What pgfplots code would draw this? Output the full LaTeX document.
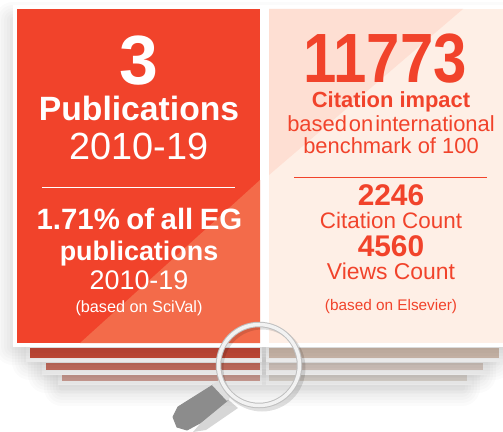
\documentclass[border=0pt]{standalone}
\usepackage{fontspec}
\setmainfont{Liberation Sans}
\usepackage{graphicx}
\usepackage{pgfplots}
\pgfplotsset{compat=1.18}

\definecolor{redmain}{HTML}{F1432B}
\definecolor{redlight}{HTML}{F36B4A}
\definecolor{peachdark}{HTML}{FEDFD3}
\definecolor{peachlight}{HTML}{FEEFE6}
\definecolor{leftA}{HTML}{C54D38}
\definecolor{leftB}{HTML}{C96F61}
\definecolor{leftC}{HTML}{D5A39A}
\definecolor{rightA}{HTML}{CFB9AC}
\definecolor{rightB}{HTML}{D8C9C0}
\definecolor{rightC}{HTML}{E0DAD3}

% x1,y1,x2,y2 in picture pixels
\newcommand{\rect}[5]{\addplot[draw=none,fill=#5] coordinates {(#1,#2)(#3,#2)(#3,#4)(#1,#4)} --cycle;}
\newcommand{\softshadow}[4]{%
  \pgfplotsinvokeforeach{36,30,24,18,12,6}{%
    \addplot[draw=black,draw opacity=.016,line width=##1bp,line join=round,fill=none]
      coordinates {(#1,#2)(#3,#2)(#3,#4)(#1,#4)} --cycle;}}
\newcommand{\txt}[4]{\node[anchor=base,inner sep=0pt,text=#3] at (axis cs:#1,#2) {#4};}
\newcommand{\fs}[1]{\fontsize{#1}{#1}\selectfont}

\begin{document}
\begin{tikzpicture}
\begin{axis}[
    name=sheet,
    scale only axis,width=503bp,height=432bp,
    xmin=0,xmax=503,ymin=0,ymax=432,y dir=reverse,
    hide axis,clip=true]

% stacked sheets behind, lowest first
\softshadow{62}{372}{462}{388}
\rect{58}{373}{262}{385}{gray!8}
\rect{266}{373}{472}{385}{gray!8}
\rect{62}{375}{260}{381}{leftC}
\rect{269}{375}{467}{381}{rightC}

\softshadow{46}{360}{478}{375}
\rect{42}{361}{262}{375}{gray!10}
\rect{266}{361}{488}{375}{gray!10}
\rect{46}{363}{260}{370}{leftB}
\rect{269}{363}{483}{370}{rightB}

\softshadow{30}{350}{494}{362}
\rect{26}{347}{262}{362}{gray!10}
\rect{266}{347}{503}{362}{gray!10}
\rect{30}{348}{260}{358}{leftA}
\rect{269}{348}{499}{358}{rightA}

% main panels
\softshadow{13}{20}{503}{347}
\rect{13}{5}{503}{347}{white}
\rect{17}{9}{260}{343}{redmain}
\addplot[draw=none,fill=redlight] coordinates {(260,180)(260,343)(80,343)} --cycle;
\rect{269}{9}{503}{343}{peachlight}
\addplot[draw=none,fill=peachdark] coordinates {(269,9)(463,9)(269,175)} --cycle;

% left panel text
\txt{139}{85}{white}{\fs{70}\bfseries 3}
\txt{139}{120}{white}{\fs{33.8}\bfseries Publications}
\txt{139}{159}{white}{\fs{38}2010-19}
\addplot[white,line width=1bp] coordinates {(42,187.5)(235,187.5)};
\txt{139.5}{229}{white}{\fs{29.5}\bfseries 1.71\%\hspace{6.5bp}of\hspace{6.5bp}all\hspace{6.5bp}EG}
\txt{139}{260}{white}{\fs{27}\bfseries publications}
\txt{139}{289}{white}{\fs{27}2010-19}
\txt{139}{312}{white}{\fs{16.3}(based on SciVal)}

% right panel text
\txt{385}{83}{redmain}{\scalebox{.86}[1]{\fs{70}\bfseries 11773}}
\txt{391}{107}{redmain}{\fs{22}\bfseries Citation impact}
\txt{391}{131}{redmain}{\fs{22}based\hspace{2bp}on\hspace{2bp}international}
\txt{391}{153}{redmain}{\fs{22}benchmark of 100}
\addplot[redmain,line width=1bp] coordinates {(294,177)(487,177)};
\txt{391}{205}{redmain}{\fs{30}\bfseries 2246}
\txt{391}{228}{redmain}{\fs{22.5}Citation Count}
\txt{391}{256}{redmain}{\fs{30}\bfseries 4560}
\txt{391}{279}{redmain}{\fs{23}Views Count}
\txt{391}{310}{redmain}{\fs{15.4}(based on Elsevier)}

% magnifying glass
\addplot[draw=none,fill=black,fill opacity=.16]
  coordinates {(224,396)(238,408)(206,430)(193,432)} --cycle;
\addplot[only marks,mark=o,mark size=41bp,mark options={draw=black,draw opacity=.12,line width=5bp}]
  coordinates {(262,368)};
\addplot[draw=gray!90,fill=gray!90,line width=1bp,line join=round]
  coordinates {(213,385)(228,400)(200,423)(187,430)(177,427)(173,417)(178,407)} --cycle;
\addplot[draw=none,fill=gray!25] coordinates {(212,385)(219,380)(232,395)(227,401)} --cycle;
\addplot[only marks,mark=o,mark size=40.5bp,mark options={draw=gray!50,line width=5.5bp}]
  coordinates {(259,365)};
\addplot[only marks,mark=o,mark size=40.5bp,mark options={draw=gray!10,line width=3.5bp}]
  coordinates {(259,365)};
\end{axis}
\pgfresetboundingbox
\path[use as bounding box] (sheet.south west) rectangle (sheet.north east);
\end{tikzpicture}
\end{document}
